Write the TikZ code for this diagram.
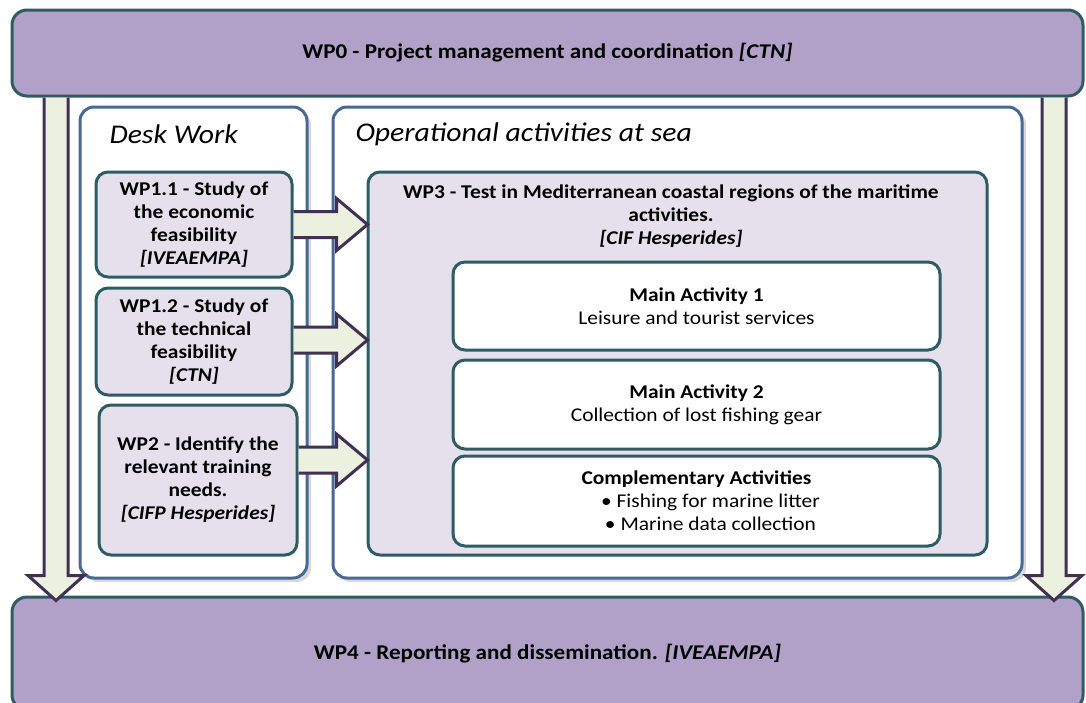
\documentclass[tikz,border=0pt]{standalone}
\usepackage{fontspec}
\setmainfont{Carlito}[FakeStretch=1.1]
\usetikzlibrary{calc,shadows}

\definecolor{wpPurple}{RGB}{177,160,199}
\definecolor{wpLilac}{RGB}{229,224,236}
\definecolor{wpTeal}{RGB}{45,92,99}
\definecolor{wpBlue}{RGB}{72,104,150}
\definecolor{arrowFill}{RGB}{235,241,222}
\definecolor{arrowLine}{RGB}{64,49,82}

\tikzset{
  txt/.style={font=\fontsize{19.5}{23}\selectfont, align=center},
  txtbf/.style={font=\fontsize{19.5}{23}\selectfont\bfseries, align=center},
  wpbar/.style={draw=wpTeal, line width=3pt, fill=wpPurple, rounded corners=15pt,
    font=\fontsize{21}{25}\selectfont\bfseries},
  groupbox/.style={draw=wpBlue, line width=3pt, fill=white, rounded corners=14pt,
    drop shadow={shadow xshift=4pt, shadow yshift=-4pt, opacity=.3}},
  wpbox/.style={draw=wpTeal, line width=3pt, fill=wpLilac, rounded corners=12pt, txtbf},
  actbox/.style={draw=wpTeal, line width=3pt, fill=white, rounded corners=12pt, txt},
  heading/.style={font=\fontsize{27}{32}\selectfont\itshape, anchor=west},
  blockarrow/.style={draw=arrowLine, line width=3pt, fill=arrowFill, line join=miter},
}

% fat arrow from the east side of #2 to the west side of #3, #1 = vertical shift
\newcommand{\sidearrow}[3][0]{%
  \filldraw[blockarrow] let \p1=(#2.east), \p2=(#3.west) in
    (\x1,\y1+#1+13) -- (\x2-30,\y1+#1+13) -- (\x2-30,\y1+#1+26)
    -- (\x2+1,\y1+#1) -- (\x2-30,\y1+#1-26) -- (\x2-30,\y1+#1-13) -- (\x1,\y1+#1-13);}

% fat arrow going down from #2 to #3 at x = #1
\newcommand{\droparrow}[3]{%
  \filldraw[blockarrow] let \p1=(#2.south), \p2=(#3.north), \p3=(#1,0) in
    (\x3-12,\y1) -- (\x3-12,\y2+20) -- (\x3-28,\y2+20) -- (\x3,\y2-5)
    -- (\x3+28,\y2+20) -- (\x3+12,\y2+20) -- (\x3+12,\y1);}

\begin{document}
\begin{tikzpicture}[x=1pt, y=-1pt]
  \path[use as bounding box, clip] (0,0) rectangle (1086,702);

  % top and bottom bars
  \node[wpbar, minimum width=1071pt, minimum height=86pt] (wp0) at (547.5,53)
    {WP0 - Project management and coordination \textit{[CTN]}};
  \node[wpbar, minimum width=1071pt, minimum height=113pt] (wp4) at (547.5,653.5)
    {WP4 - Reporting and dissemination. \textit{[IVEAEMPA]}};

  % the two groups
  \node[groupbox, minimum width=227pt, minimum height=471pt] (desk) at (193.5,342.5) {};
  \node[groupbox, minimum width=689pt, minimum height=471pt] (oper) at (677.5,342.5) {};
  \node[heading] (deskttl) at (106,134) {Desk Work};
  \node[heading] (operttl) at (352,134) {Operational activities at sea};

  % desk work packages
  \node[wpbox, minimum width=196pt, minimum height=105pt] (wp11) at (194,224.5)
    {WP1.1 - Study of\\the economic\\feasibility\\\textit{[IVEAEMPA]}};
  \node[wpbox, minimum width=196pt, minimum height=107pt] (wp12) at (194,341.5)
    {WP1.2 - Study of\\the technical\\feasibility\\\textit{[CTN]}};
  \node[wpbox, minimum width=198pt, minimum height=150pt] (wp2) at (198,480)
    {WP2 - Identify the\\relevant training\\needs.\\\textit{[CIFP Hesperides]}};

  % work at sea
  \node[wpbox, minimum width=619pt, minimum height=383pt] (wp3) at (677.5,363.5) {};
  \node[txtbf] (wp3ttl) at (671,216)
    {WP3 - Test in Mediterranean coastal  regions of the maritime\\activities.\\\textit{[CIF Hesperides]}};
  \node[actbox, minimum width=487pt, minimum height=88pt] (ma1) at (696.5,306)
    {\textbf{Main  Activity 1}\\Leisure and tourist services};
  \node[actbox, minimum width=487pt, minimum height=89pt] (ma2) at (696.5,404.5)
    {\textbf{Main  Activity 2}\\Collection of lost fishing gear};
  \node[actbox, minimum width=487pt, minimum height=90pt] (comp) at (696.5,501)
    {\textbf{Complementary Activities}\\\hspace{28pt}\textbullet\ Fishing for marine litter\\\hspace{28pt}\textbullet\ Marine data collection};

  % arrows
  \sidearrow{wp11}{wp3}
  \sidearrow[1.5]{wp12}{wp3}
  \sidearrow[20]{wp2}{wp3}
  \droparrow{56}{wp0}{wp4}
  \droparrow{1054}{wp0}{wp4}
\end{tikzpicture}
\end{document}
